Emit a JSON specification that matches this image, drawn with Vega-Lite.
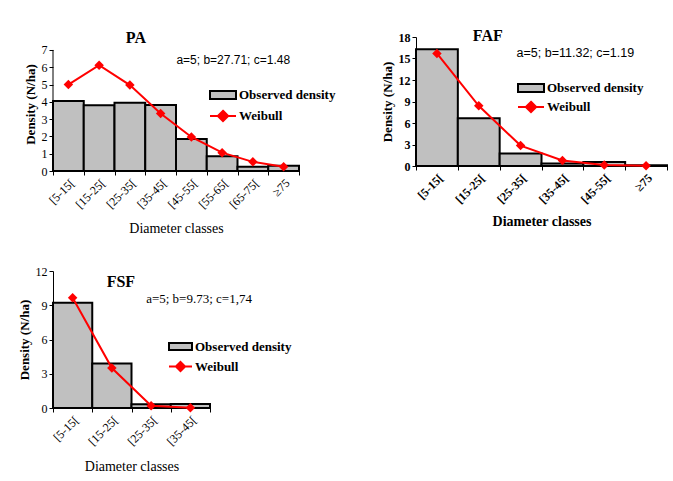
{
  "$schema": "https://vega.github.io/schema/vega-lite/v6.json",
  "background": "white",
  "padding": {"left": 18, "top": 27, "right": 5, "bottom": 5},
  "spacing": 29,
  "resolve": {"scale": {"fill": "independent", "stroke": "independent"}, "legend": {"fill": "independent", "stroke": "independent"}},
  "vconcat": [
    {
      "hconcat": [
        {
          "width": 246,
          "height": 134,
          "data": {"values": [
            {"cls": "[5-15[", "obs": 4.05, "wei": 5.0},
            {"cls": "[15-25[", "obs": 3.8, "wei": 6.12},
            {"cls": "[25-35[", "obs": 3.95, "wei": 4.97},
            {"cls": "[35-45[", "obs": 3.82, "wei": 3.33},
            {"cls": "[45-55[", "obs": 1.85, "wei": 1.97},
            {"cls": "[55-65[", "obs": 0.85, "wei": 1.06},
            {"cls": "[65-75[", "obs": 0.25, "wei": 0.53},
            {"cls": "≥75", "obs": 0.3, "wei": 0.25}
          ]},
          "layer": [
            {
              "mark": {"type": "bar", "stroke": "black", "strokeWidth": 2},
              "encoding": {
                "x": {"field": "cls", "type": "nominal", "sort": null, "scale": {"domain": ["[5-15[", "[15-25[", "[25-35[", "[35-45[", "[45-55[", "[55-65[", "[65-75[", "≥75"], "paddingInner": 0, "paddingOuter": 0}, "axis": {"title": "Diameter classes", "titleFontWeight": "normal", "titlePadding": 11}},
                "y": {"field": "obs", "type": "quantitative", "scale": {"domain": [0, 7.75]}, "axis": {"title": "Density (N/ha)", "values": [0, 1, 2, 3, 4, 5, 6, 7], "domain": false}},
                "fill": {"datum": "Observed density", "scale": {"range": ["#c0c0c0"]}, "legend": {"orient": "none", "legendX": 156, "legendY": 44, "symbolType": "M-1,-0.3H1V0.3H-1Z", "symbolStrokeColor": "black"}}
              }
            },
            {
              "data": {"values": [{"cls": "[5-15[", "lo": 0, "hi": 7}]},
              "mark": {"type": "rule", "color": "black", "strokeWidth": 1},
              "encoding": {
                "x": {"field": "cls", "type": "nominal", "sort": null, "bandPosition": 0},
                "y": {"field": "lo", "type": "quantitative", "scale": {"domain": [0, 7.75]}, "axis": {"title": "Density (N/ha)", "values": [0, 1, 2, 3, 4, 5, 6, 7], "domain": false}},
                "y2": {"field": "hi"}
              }
            },
            {
              "mark": {"type": "line", "strokeWidth": 2},
              "encoding": {
                "x": {"field": "cls", "type": "nominal", "sort": null},
                "y": {"field": "wei", "type": "quantitative", "scale": {"domain": [0, 7.75]}, "axis": {"title": "Density (N/ha)", "values": [0, 1, 2, 3, 4, 5, 6, 7], "domain": false}},
                "stroke": {"datum": "Weibull", "scale": {"range": ["#ff0000"]}, "legend": {"orient": "none", "legendX": 156, "legendY": 65, "symbolType": "M-1,0H1M0,-0.4L0.4,0L0,0.4L-0.4,0Z", "symbolFillColor": "#ff0000", "encode": {"symbols": {"update": {"fill": {"value": "#ff0000"}}}}}}
              }
            },
            {
              "mark": {"type": "point", "shape": "diamond", "filled": true, "color": "#ff0000", "size": 90, "opacity": 1},
              "encoding": {
                "x": {"field": "cls", "type": "nominal", "sort": null},
                "y": {"field": "wei", "type": "quantitative", "scale": {"domain": [0, 7.75]}, "axis": {"title": "Density (N/ha)", "values": [0, 1, 2, 3, 4, 5, 6, 7], "domain": false}}
              }
            },
            {
              "data": {"values": [{"label": "PA", "cls": "[25-35[", "y": 7.7}]},
              "mark": {"type": "text", "font": "Liberation Serif", "fontWeight": "bold", "fontSize": 16, "align": "center", "baseline": "middle", "dx": 6},
              "encoding": {
                "x": {"field": "cls", "type": "nominal", "sort": null},
                "y": {"field": "y", "type": "quantitative", "scale": {"domain": [0, 7.75]}, "axis": {"title": "Density (N/ha)", "values": [0, 1, 2, 3, 4, 5, 6, 7], "domain": false}},
                "text": {"field": "label"}
              }
            },
            {
              "data": {"values": [{"label": "a=5; b=27.71; c=1.48", "cls": "[45-55[", "y": 6.4}]},
              "mark": {"type": "text", "font": "Liberation Sans", "fontSize": 12, "align": "left", "baseline": "middle", "dx": -15},
              "encoding": {
                "x": {"field": "cls", "type": "nominal", "sort": null},
                "y": {"field": "y", "type": "quantitative", "scale": {"domain": [0, 7.75]}, "axis": {"title": "Density (N/ha)", "values": [0, 1, 2, 3, 4, 5, 6, 7], "domain": false}},
                "text": {"field": "label"}
              }
            }
          ]
        },
        {
          "width": 251,
          "height": 129,
          "data": {"values": [
            {"cls": "[5-15[", "obs": 16.3, "wei": 15.7},
            {"cls": "[15-25[", "obs": 6.65, "wei": 8.4},
            {"cls": "[25-35[", "obs": 1.75, "wei": 2.85},
            {"cls": "[35-45[", "obs": 0.35, "wei": 0.78},
            {"cls": "[45-55[", "obs": 0.55, "wei": 0.15},
            {"cls": "≥75", "obs": 0.12, "wei": 0.02}
          ]},
          "layer": [
            {
              "mark": {"type": "bar", "stroke": "black", "strokeWidth": 2},
              "encoding": {
                "x": {"field": "cls", "type": "nominal", "sort": null, "scale": {"domain": ["[5-15[", "[15-25[", "[25-35[", "[35-45[", "[45-55[", "≥75"], "paddingInner": 0, "paddingOuter": 0}, "axis": {"title": "Diameter classes", "titlePadding": 9, "labelFontWeight": "bold"}},
                "y": {"field": "obs", "type": "quantitative", "scale": {"domain": [0, 18]}, "axis": {"title": "Density (N/ha)", "values": [0, 3, 6, 9, 12, 15, 18], "labelFontWeight": "bold"}},
                "fill": {"datum": "Observed density", "scale": {"range": ["#c0c0c0"]}, "legend": {"orient": "none", "legendX": 101, "legendY": 37, "symbolType": "M-1,-0.3H1V0.3H-1Z", "symbolStrokeColor": "black"}}
              }
            },
            {
              "mark": {"type": "line", "strokeWidth": 2},
              "encoding": {
                "x": {"field": "cls", "type": "nominal", "sort": null},
                "y": {"field": "wei", "type": "quantitative", "scale": {"domain": [0, 18]}, "axis": {"title": "Density (N/ha)", "values": [0, 3, 6, 9, 12, 15, 18], "labelFontWeight": "bold"}},
                "stroke": {"datum": "Weibull", "scale": {"range": ["#ff0000"]}, "legend": {"orient": "none", "legendX": 101, "legendY": 56, "symbolType": "M-1,0H1M0,-0.4L0.4,0L0,0.4L-0.4,0Z", "symbolFillColor": "#ff0000", "encode": {"symbols": {"update": {"fill": {"value": "#ff0000"}}}}}}
              }
            },
            {
              "mark": {"type": "point", "shape": "diamond", "filled": true, "color": "#ff0000", "size": 90, "opacity": 1},
              "encoding": {
                "x": {"field": "cls", "type": "nominal", "sort": null},
                "y": {"field": "wei", "type": "quantitative", "scale": {"domain": [0, 18]}, "axis": {"title": "Density (N/ha)", "values": [0, 3, 6, 9, 12, 15, 18], "labelFontWeight": "bold"}}
              }
            },
            {
              "data": {"values": [{"label": "FAF", "cls": "[15-25[", "y": 18.2}]},
              "mark": {"type": "text", "font": "Liberation Serif", "fontWeight": "bold", "fontSize": 16, "align": "center", "baseline": "middle", "dx": 9},
              "encoding": {
                "x": {"field": "cls", "type": "nominal", "sort": null},
                "y": {"field": "y", "type": "quantitative", "scale": {"domain": [0, 18]}, "axis": {"title": "Density (N/ha)", "values": [0, 3, 6, 9, 12, 15, 18], "labelFontWeight": "bold"}},
                "text": {"field": "label"}
              }
            },
            {
              "data": {"values": [{"label": "a=5; b=11.32; c=1.19", "cls": "[25-35[", "y": 15.8}]},
              "mark": {"type": "text", "font": "Liberation Sans", "fontSize": 12.5, "align": "left", "baseline": "middle", "dx": -4},
              "encoding": {
                "x": {"field": "cls", "type": "nominal", "sort": null},
                "y": {"field": "y", "type": "quantitative", "scale": {"domain": [0, 18]}, "axis": {"title": "Density (N/ha)", "values": [0, 3, 6, 9, 12, 15, 18], "labelFontWeight": "bold"}},
                "text": {"field": "label"}
              }
            }
          ]
        }
      ],
      "spacing": 45,
      "resolve": {"scale": {"fill": "independent", "stroke": "independent"}, "legend": {"fill": "independent", "stroke": "independent"}}
    },
    {
      "width": 157,
      "height": 137,
      "data": {"values": [
        {"cls": "[5-15[", "obs": 9.22, "wei": 9.66},
        {"cls": "[15-25[", "obs": 3.9, "wei": 3.5},
        {"cls": "[25-35[", "obs": 0.33, "wei": 0.2},
        {"cls": "[35-45[", "obs": 0.35, "wei": 0.02}
      ]},
      "layer": [
        {
          "mark": {"type": "bar", "stroke": "black", "strokeWidth": 2},
          "encoding": {
            "x": {"field": "cls", "type": "nominal", "sort": null, "scale": {"domain": ["[5-15[", "[15-25[", "[25-35[", "[35-45["], "paddingInner": 0, "paddingOuter": 0}, "axis": {"title": "Diameter classes", "titleFontWeight": "normal", "titlePadding": 12}},
            "y": {"field": "obs", "type": "quantitative", "scale": {"domain": [0, 12]}, "axis": {"title": "Density (N/ha)", "values": [0, 3, 6, 9, 12]}},
            "fill": {"datum": "Observed density", "scale": {"range": ["#c0c0c0"]}, "legend": {"orient": "none", "legendX": 115, "legendY": 63, "symbolSize": 529, "symbolType": "M-1,-0.3H1V0.3H-1Z", "symbolStrokeColor": "black"}}
          }
        },
        {
          "mark": {"type": "line", "strokeWidth": 2},
          "encoding": {
            "x": {"field": "cls", "type": "nominal", "sort": null},
            "y": {"field": "wei", "type": "quantitative", "scale": {"domain": [0, 12]}, "axis": {"title": "Density (N/ha)", "values": [0, 3, 6, 9, 12]}},
            "stroke": {"datum": "Weibull", "scale": {"range": ["#ff0000"]}, "legend": {"orient": "none", "legendX": 115, "legendY": 83, "symbolSize": 529, "symbolType": "M-1,0H1M0,-0.4L0.4,0L0,0.4L-0.4,0Z", "symbolFillColor": "#ff0000", "encode": {"symbols": {"update": {"fill": {"value": "#ff0000"}}}}}}
          }
        },
        {
          "mark": {"type": "point", "shape": "diamond", "filled": true, "color": "#ff0000", "size": 90, "opacity": 1},
          "encoding": {
            "x": {"field": "cls", "type": "nominal", "sort": null},
            "y": {"field": "wei", "type": "quantitative", "scale": {"domain": [0, 12]}, "axis": {"title": "Density (N/ha)", "values": [0, 3, 6, 9, 12]}}
          }
        },
        {
          "data": {"values": [{"label": "FSF", "cls": "[15-25[", "y": 11.03}]},
          "mark": {"type": "text", "font": "Liberation Serif", "fontWeight": "bold", "fontSize": 16, "align": "center", "baseline": "middle", "dx": 9},
          "encoding": {
            "x": {"field": "cls", "type": "nominal", "sort": null},
            "y": {"field": "y", "type": "quantitative", "scale": {"domain": [0, 12]}, "axis": {"title": "Density (N/ha)", "values": [0, 3, 6, 9, 12]}},
            "text": {"field": "label"}
          }
        },
        {
          "data": {"values": [{"label": "a=5; b=9.73; c=1,74", "cls": "[25-35[", "y": 9.57}]},
          "mark": {"type": "text", "font": "Liberation Serif", "fontSize": 13, "align": "left", "baseline": "middle", "dx": -5},
          "encoding": {
            "x": {"field": "cls", "type": "nominal", "sort": null},
            "y": {"field": "y", "type": "quantitative", "scale": {"domain": [0, 12]}, "axis": {"title": "Density (N/ha)", "values": [0, 3, 6, 9, 12]}},
            "text": {"field": "label"}
          }
        }
      ]
    }
  ],
  "config": {
    "view": {"stroke": null},
    "font": "Liberation Serif",
    "axis": {"grid": false, "domainColor": "black", "domainWidth": 1, "tickColor": "black", "tickSize": 4, "labelColor": "black", "labelFont": "Liberation Serif", "labelFontSize": 12, "titleFont": "Liberation Serif", "titleColor": "black", "titleFontSize": 13, "titleFontWeight": "bold", "labelOverlap": false},
    "axisX": {"labelAngle": -45, "tickBand": "extent", "titleFontSize": 14, "labelPadding": 2},
    "legend": {"title": null, "padding": 0, "symbolSize": 676, "labelFont": "Liberation Serif", "labelFontSize": 13, "labelFontWeight": "bold", "labelColor": "black", "labelOffset": 2, "symbolStrokeWidth": 2}
  }
}
